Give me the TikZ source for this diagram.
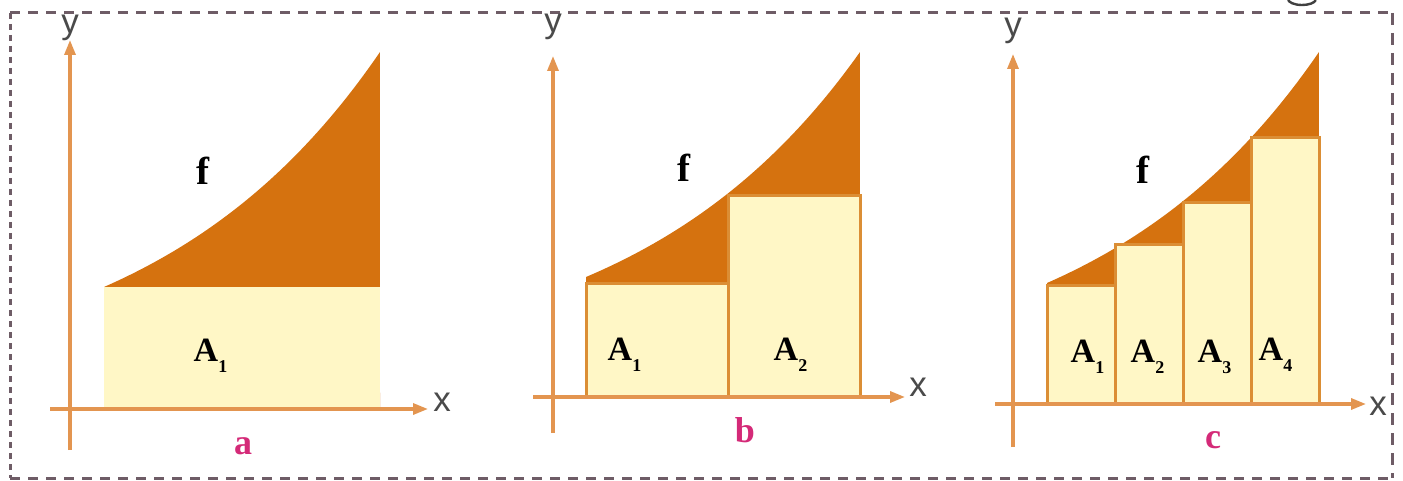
\documentclass[tikz,border=0pt]{standalone}
\usepackage{fontspec}
\setmainfont{Liberation Serif}
\newfontfamily\axfont{Liberation Sans}
\usetikzlibrary{arrows.meta}
\definecolor{darkor}{HTML}{D5720F}
\definecolor{lightyel}{HTML}{FFF7C6}
\definecolor{rectedge}{HTML}{DB8E35}
\definecolor{axisor}{HTML}{E39550}
\definecolor{capmag}{HTML}{D42A78}
\definecolor{framegray}{HTML}{6E5C66}
\definecolor{axtext}{HTML}{4A4A4A}
\tikzset{
  axisline/.style={draw=axisor, line width=3.2pt, -{Triangle[length=15pt,width=11pt]}},
  bar/.style={fill=lightyel, draw=rectedge, line width=3pt},
  area/.style={fill=darkor},
  axlab/.style={font=\axfont\fontsize{35}{35}\selectfont, text=axtext, inner sep=0pt},
  albl/.style={font=\bfseries\fontsize{34}{34}\selectfont, inner sep=0pt},
  flbl/.style={font=\bfseries\fontsize{39}{39}\selectfont, inner sep=0pt},
  caplbl/.style={font=\bfseries\fontsize{36}{36}\selectfont, text=capmag, inner sep=0pt},
  framedash/.style={draw=framegray, line width=3pt}
}
\newcommand{\subidx}[1]{\rlap{\raisebox{-0.32em}{\fontsize{18}{18}\selectfont #1}}}
\newcommand{\curvearea}[5]{% x0 x1 y0 y1 ybase
  \fill[area] plot[domain=0:1, samples=50, variable=\t]
    ({#1+(#2-#1)*\t}, {#3-(#3-#4)*(exp(1.2*\t)-1)/(exp(1.2)-1)})
    -- (#2,#5) -- (#1,#5) -- cycle;}
\begin{document}
\begin{tikzpicture}[x=1pt,y=-1pt]
\useasboundingbox (0,0) rectangle (1403,481);
% frame
\coordinate (fTL) at (10,13);
\coordinate (fTR) at (1392,13);
\coordinate (fBL) at (10,478);
\coordinate (fBR) at (1392,478);
\draw[framedash, dash pattern=on 10pt off 8pt] (fTL) -- (fTR);
\draw[framedash, dash pattern=on 10pt off 8pt] (fBL) -- (fBR);
\draw[framedash, dash pattern=on 6pt off 5pt] (fTL) -- (fBL);
\draw[framedash, dash pattern=on 12pt off 8pt] (fTR) -- (fBR);
% partial glyph at top
\draw[black!75, line width=2.4pt] (1288,-1) arc[start angle=180, end angle=10, x radius=14, y radius=6];

% ---------- panel a ----------
\curvearea{104}{380}{287}{52}{409}
\fill[lightyel] (104,287) rectangle (380,409);
\coordinate (ay0) at (70,450); \coordinate (ay1) at (70,40);
\coordinate (ax0) at (50,409); \coordinate (ax1) at (428,409);
\draw[axisline] (ay0) -- (ay1);
\draw[axisline] (ax0) -- (ax1);
\node[axlab] (ay) at (70,28) {y};
\node[axlab] (ax) at (442,402) {x};
\node[flbl] (af) at (203,171) {f};
\node[albl] (aA1) at (206,356) {A\subidx{1}};
\node[caplbl] (acap) at (243,446) {a};

% ---------- panel b ----------
\curvearea{586}{860}{277}{52}{397}
\draw[bar] (586,283) rectangle (728,397);
\draw[bar] (728,196) rectangle (860,397);
\coordinate (by0) at (553,433); \coordinate (by1) at (553,56);
\coordinate (bx0) at (533,397); \coordinate (bx1) at (905,397);
\draw[axisline] (by0) -- (by1);
\draw[axisline] (bx0) -- (bx1);
\node[axlab] (by) at (553,27) {y};
\node[axlab] (bx) at (918,387) {x};
\node[flbl] (bf) at (684,168) {f};
\node[albl] (bA1) at (620,355) {A\subidx{1}};
\node[albl] (bA2) at (786,355) {A\subidx{2}};
\node[caplbl] (bcap) at (745,430) {b};

% ---------- panel c ----------
\curvearea{1047}{1319}{283}{52}{404}
\draw[bar] (1047,285) rectangle (1115,404);
\draw[bar] (1115,245) rectangle (1183,404);
\draw[bar] (1183,203) rectangle (1251,404);
\draw[bar] (1251,138) rectangle (1319,404);
\coordinate (cy0) at (1013,447); \coordinate (cy1) at (1013,54);
\coordinate (cx0) at (995,404); \coordinate (cx1) at (1366,404);
\draw[axisline] (cy0) -- (cy1);
\draw[axisline] (cx0) -- (cx1);
\node[axlab] (cy) at (1013,31) {y};
\node[axlab] (cx) at (1378,406) {x};
\node[flbl] (cf) at (1143,170) {f};
\node[albl] (cA1) at (1083,357) {A\subidx{1}};
\node[albl] (cA2) at (1143,357) {A\subidx{2}};
\node[albl] (cA3) at (1210,357) {A\subidx{3}};
\node[albl] (cA4) at (1271,355) {A\subidx{4}};
\node[caplbl] (ccap) at (1213,440) {c};
\end{tikzpicture}
\end{document}
